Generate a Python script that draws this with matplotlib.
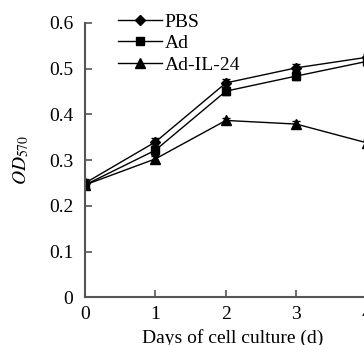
import matplotlib
matplotlib.use("Agg")
import matplotlib.pyplot as plt

days = [0, 1, 2, 3, 4]
pbs = [0.250, 0.340, 0.469, 0.502, 0.525]
pbs_err = [0.008, 0.009, 0.008, 0.008, 0.008]
ad = [0.246, 0.322, 0.451, 0.484, 0.516]
ad_err = [0.008, 0.010, 0.008, 0.009, 0.009]
ad_il24 = [0.246, 0.303, 0.387, 0.379, 0.338]
il24_err = [0.007, 0.007, 0.006, 0.007, 0.007]

plt.rcParams['font.family'] = ['Liberation Serif', 'DejaVu Serif']
plt.rcParams['mathtext.fontset'] = 'stix'
plt.rcParams['font.size'] = 14

fig = plt.figure(figsize=(3.64, 3.45), dpi=100)
ax = fig.add_axes([0.2335, 0.1377, 0.813, 0.7957])

# error bars first, then the lines with markers (these carry the legend)
for vals, errs in [(pbs, pbs_err), (ad, ad_err), (ad_il24, il24_err)]:
    ax.errorbar(days, vals, yerr=errs, fmt='none', ecolor='black',
                elinewidth=1.0, capsize=3, capthick=1.0)
ax.plot(days, pbs, color='black', lw=1.0, marker='D', ms=5, label='PBS')
ax.plot(days, ad, color='black', lw=1.0, marker='s', ms=5.5, label='Ad')
ax.plot(days, ad_il24, color='black', lw=1.0, marker='^', ms=6.5, label='Ad-IL-24')

ax.set_xlim(0, 4.2)
ax.set_ylim(0, 0.6)
ax.set_xticks([0, 1, 2, 3, 4])
ax.set_yticks([0, 0.1, 0.2, 0.3, 0.4, 0.5, 0.6])
ax.set_yticklabels(['0', '0.1', '0.2', '0.3', '0.4', '0.5', '0.6'])

for s in ['top', 'right']:
    ax.spines[s].set_visible(False)
for s in ['left', 'bottom']:
    ax.spines[s].set_color('#555555')
    ax.spines[s].set_linewidth(1.5)
ax.tick_params(direction='in', length=5, width=1.2, color='#555555')
ax.tick_params(axis='y', pad=8.4)
ax.tick_params(axis='x', pad=5.8)

ax.set_xlabel('Days of cell culture (d)', labelpad=5)
ax.set_ylabel(r'$\mathit{OD}_{570}$', labelpad=13)

leg = ax.legend(loc='upper left', bbox_to_anchor=(0.297, 0.99), bbox_transform=fig.transFigure,
                frameon=False, handlelength=2.27, handletextpad=0.15, labelspacing=0.2,
                borderpad=0)

fig.savefig('out.png', dpi=100)
